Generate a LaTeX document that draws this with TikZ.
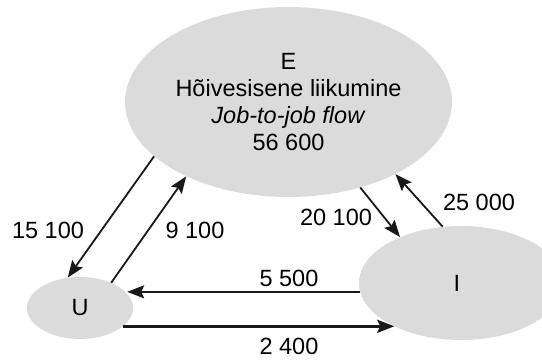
\documentclass[tikz,border=0pt]{standalone}
\usepackage{fontspec}
\setmainfont{Liberation Sans}
\usetikzlibrary{shapes.geometric,arrows.meta}
\begin{document}
\begin{tikzpicture}[x=1pt,y=-1pt,
  every node/.style={font=\fontsize{23.5}{26.8}\selectfont},
  state/.style={ellipse,fill=black!14,draw=none,inner sep=0pt,align=center},
  flow/.style={draw=black!90,line width=1.8pt,-{Stealth[length=17pt,width=13pt,inset=3pt]}},
  thickflow/.style={flow,line width=3pt},
  lbl/.style={inner sep=0pt}]
\clip (0,0) rectangle (542,360);
\node[state,minimum width=327pt,minimum height=190pt] (E) at (288.5,102)
  {E\\Hõivesisene liikumine\\\textit{Job-to-job flow}\\56 600};
\node[state,minimum width=106pt,minimum height=62pt] (U) at (80,308) {U};
\node[state,minimum width=204pt,minimum height=114pt] (I) at (461,283) {};
\node[lbl] (Ilbl) at (457,283) {I};
\draw[flow] (E.202.3) -- (U.112);
\draw[flow] (U.39) -- (E.216.8);
\draw[flow] (E.310.1) -- (I.143.4);
\draw[flow] (I.108.1) -- (E.326.6);
\draw[flow] (I.185.8) -- (U.17.7 |- I.185.8);
\draw[thickflow] (U.337.3) -- (I.213.1 |- U.337.3);
\node[lbl] (l1) at (48,230) {15 100};
\node[lbl] (l2) at (195,230) {9 100};
\node[lbl] (l3) at (336,217) {20 100};
\node[lbl] (l4) at (479,202) {25 000};
\node[lbl] (l5) at (289,278) {5 500};
\node[lbl] (l6) at (289,346) {2 400};
\end{tikzpicture}
\end{document}
